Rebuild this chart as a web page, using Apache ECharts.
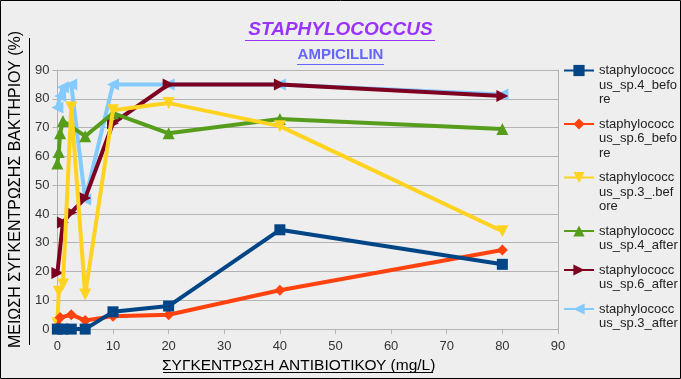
<!DOCTYPE html>
<html>
<head>
<meta charset="utf-8">
<script src="https://cdn.jsdelivr.net/npm/echarts@6/dist/echarts.min.js"></script>
<style>
html,body{margin:0;padding:0;background:#eeeeee;}
#c{width:681px;height:379px;}
</style>
</head>
<body>
<div id="c"></div>
<script>
// ---- data ----
const xValues = [0, 0.25, 0.5, 1, 2.5, 5, 10, 20, 40, 80];
const sp4Before = [0, null, null, 0, 0, 0, 6, 8, 34.5, 22.5];
const sp6Before = [0.5, null, 4, null, 5, 3, 4.5, 5, 13.5, 27.5];
const sp3Before = [2, 13, null, 15.5, 77, 12, 76, 78.5, 70.5, 34];
const sp4After = [57.5, 61.5, 68, 72.3, null, 67, 75, 68, 73, 69.5];
const sp6After = [19.5, null, null, 37, 40.5, 45.5, 71.5, 85, 85, 81];
const sp3After = [77, null, 81, 84, 85, 45, 85, 85, 85, 81.5];

const seriesNames = [
  'staphylococcus_sp.4_before',
  'staphylococcus_sp.6_before',
  'staphylococcus_sp.3_.before',
  'staphylococcus_sp.4_after',
  'staphylococcus_sp.6_after',
  'staphylococcus_sp.3_after'
];
const legendLines = [
  ['staphylococc', 'us_sp.4_befo', 're'],
  ['staphylococc', 'us_sp.6_befo', 're'],
  ['staphylococc', 'us_sp.3_.bef', 'ore'],
  ['staphylococc', 'us_sp.4_after'],
  ['staphylococc', 'us_sp.6_after'],
  ['staphylococc', 'us_sp.3_after']
];
const seriesValues = [sp4Before, sp6Before, sp3Before, sp4After, sp6After, sp3After];
const yTicks = [0, 10, 20, 30, 40, 50, 60, 70, 80, 90];
const xTicks = [0, 10, 20, 30, 40, 50, 60, 70, 80, 90];

const titleText = 'STAPHYLOCOCCUS';
const subtitleText = 'AMPICILLIN';
const xName = 'ΣΥΓΚΕΝΤΡΩΣΗ ΑΝΤΙΒΙΟΤΙΚΟΥ (mg/L)';
const yName = 'ΜΕΙΩΣΗ ΣΥΓΚΕΝΤΡΩΣΗΣ ΒΑΚΤΗΡΙΟΥ (%)';

// ---- styles ----
const colors = ['#004586', '#ff420e', '#ffd320', '#579d1c', '#7e0021', '#83caff'];
const symbols = ['rect', 'diamond', 'triangle', 'triangle', 'triangle', 'triangle'];
const symbolRot = [0, 0, 180, 0, -90, 90];
const symbolSizes = [11, 11, 12, 12, 12, 12];
const legendCenters = [70.5, 124, 177.5, 231, 270, 309];
const LH = 14.6;

const chart = echarts.init(document.getElementById('c'), null, {renderer: 'canvas'});

const series = seriesValues.map((vals, i) => ({
  name: seriesNames[i],
  type: 'line',
  data: xValues.map((x, k) => [x, vals[k]]).filter(p => p[1] !== null),
  symbol: symbols[i],
  symbolRotate: symbolRot[i],
  symbolSize: symbolSizes[i],
  showAllSymbol: true,
  z: 10 - i,
  lineStyle: {width: 4, color: colors[i]},
  itemStyle: {color: colors[i]},
  emphasis: {disabled: true},
  animation: false
}));

const legends = seriesNames.map((n, i) => {
  const lines = legendLines[i];
  const blanks = lines.length - 1;
  const total = lines.length + blanks;
  const H = total * LH;
  return {
    show: true,
    data: [n],
    orient: 'vertical',
    left: 563,
    top: legendCenters[i] - H / 2,
    padding: 0,
    itemWidth: 30,
    itemHeight: 14,
    itemGap: 4,
    selectedMode: false,
    formatter: function () {
      const arr = [];
      for (let b = 0; b < blanks; b++) arr.push('');
      return arr.concat(lines).join('\n');
    },
    textStyle: {fontSize: 13, lineHeight: LH, color: '#222', fontFamily: 'Liberation Sans'}
  };
});

const option = {
  backgroundColor: '#eeeeee',
  animation: false,
  color: colors,
  title: [
    {text: titleText, left: 'center', top: 20, padding: 0,
     textStyle: {fontSize: 19, fontStyle: 'italic', fontWeight: 'bold', color: '#9933ff', fontFamily: 'Liberation Sans'}},
    {text: subtitleText, left: 'center', top: 47, padding: 0,
     textStyle: {fontSize: 15, fontWeight: 'bold', color: '#6666ff', fontFamily: 'Liberation Sans'}}
  ],
  legend: legends,
  grid: {left: 56, right: 123, top: 70, bottom: 47, containLabel: false},
  xAxis: {
    type: 'value', min: 0, max: 90, interval: 10,
    name: xName, nameLocation: 'middle', nameGap: 25,
    nameTextStyle: {fontSize: 15.5, color: '#000', fontFamily: 'Liberation Sans', padding: [0, 18, 0, 0]},
    axisLine: {show: true, lineStyle: {color: '#b3b3b3', width: 1}},
    axisTick: {show: true, length: 5, lineStyle: {color: '#b3b3b3'}},
    axisLabel: {fontSize: 13, color: '#333', margin: 11, fontFamily: 'Liberation Sans',
      formatter: v => (xTicks.indexOf(v) >= 0 ? String(v) : '')},
    splitLine: {show: false}
  },
  yAxis: [{
    type: 'value', min: 0, max: 90, interval: 10,
    name: yName, nameLocation: 'middle', nameGap: 26, nameRotate: 90,
    nameTextStyle: {fontSize: 16, color: '#000', fontFamily: 'Liberation Sans', padding: [0, 0, 0, 20]},
    axisLine: {show: true, lineStyle: {color: '#b3b3b3', width: 1}},
    axisTick: {show: true, length: 5, lineStyle: {color: '#b3b3b3'}},
    axisLabel: {fontSize: 13, color: '#333', margin: 8, fontFamily: 'Liberation Sans',
      formatter: v => (yTicks.indexOf(v) >= 0 ? String(v) : '')},
    splitLine: {show: true, lineStyle: {color: '#b3b3b3', width: 1}}
  }, {
    type: 'value', min: 0, max: 90, interval: 10, position: 'right',
    axisLine: {show: true, lineStyle: {color: '#b3b3b3', width: 1}},
    axisTick: {show: false}, axisLabel: {show: false}, splitLine: {show: false}
  }],
  graphic: [
    {type: 'rect', shape: {x: 0.5, y: 0.5, width: 680, height: 378}, style: {fill: 'none', stroke: '#000', lineWidth: 1}, z: 100},
    {type: 'line', shape: {x1: 245, y1: 40.5, x2: 435, y2: 40.5}, style: {stroke: '#9933ff', lineWidth: 1}},
    {type: 'line', shape: {x1: 297, y1: 64.5, x2: 384, y2: 64.5}, style: {stroke: '#6666ff', lineWidth: 1}},
    {type: 'line', shape: {x1: 163, y1: 372.5, x2: 433, y2: 372.5}, style: {stroke: '#000', lineWidth: 1}},
    {type: 'line', shape: {x1: 29.5, y1: 38, x2: 29.5, y2: 345}, style: {stroke: '#000', lineWidth: 1}}
  ],
  series: series
};
chart.setOption(option);
</script>
</body>
</html>
